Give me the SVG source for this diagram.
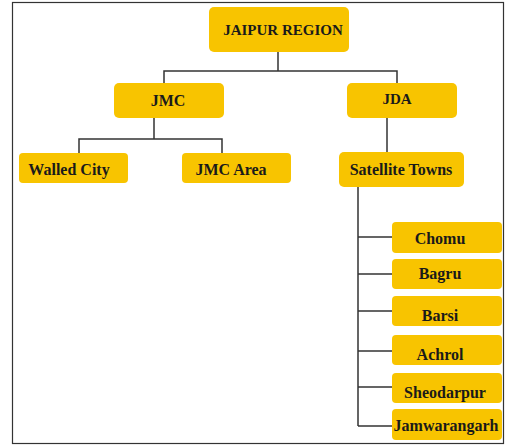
<svg xmlns="http://www.w3.org/2000/svg" width="505" height="446" viewBox="0 0 505 446">
<style>
.box{fill:#F8C400;}
.t{font-family:"Liberation Serif","Times New Roman",serif;font-weight:bold;font-size:16px;fill:#1a1a1a;text-anchor:middle;}
.c{fill:none;stroke:#333;stroke-width:1.5;}
</style>
<rect x="12.5" y="2.5" width="491" height="441" fill="#fff" stroke="#333" stroke-width="1.2"/>
<g id="connectors">
<path class="c" d="M278,52V71M164,83V71H397V83"/>
<path class="c" d="M154,118V139M79,153V139H222V153"/>
<path class="c" d="M387,118V152"/>
<path class="c" d="M358,187V426M358,237H392M358,274H392M358,311H392M358,351H392M358,387H392M358,426H392"/>
</g>
<g id="jaipur"><rect class="box" x="209" y="7" width="140" height="45" rx="5"/><text class="t" x="283" y="35" style="font-size:15px">JAIPUR REGION</text></g>
<g id="jmc"><rect class="box" x="114" y="83" width="110" height="35" rx="5"/><text class="t" x="168" y="106">JMC</text></g>
<g id="jda"><rect class="box" x="347" y="83" width="110" height="35" rx="5"/><text class="t" x="397" y="104" style="font-size:15px">JDA</text></g>
<g id="walled"><rect class="box" x="19" y="153" width="109" height="30" rx="4"/><text class="t" x="69" y="175">Walled City</text></g>
<g id="jmcarea"><rect class="box" x="182" y="153" width="109" height="30" rx="4"/><text class="t" x="231" y="175">JMC Area</text></g>
<g id="satellite"><rect class="box" x="339" y="152" width="125" height="35" rx="5"/><text class="t" x="401" y="175">Satellite Towns</text></g>
<g id="chomu"><rect class="box" x="392" y="222" width="110" height="31" rx="4"/><text class="t" x="440" y="244">Chomu</text></g>
<g id="bagru"><rect class="box" x="392" y="259" width="110" height="30" rx="4"/><text class="t" x="440" y="279">Bagru</text></g>
<g id="barsi"><rect class="box" x="392" y="296" width="110" height="30" rx="4"/><text class="t" x="440" y="321">Barsi</text></g>
<g id="achrol"><rect class="box" x="392" y="335" width="110" height="30" rx="4"/><text class="t" x="440" y="360">Achrol</text></g>
<g id="sheodarpur"><rect class="box" x="392" y="373" width="110" height="30" rx="4"/><text class="t" x="445" y="398">Sheodarpur</text></g>
<g id="jamwarangarh"><rect class="box" x="392" y="409" width="110" height="31" rx="4"/><text class="t" x="446" y="431">Jamwarangarh</text></g>
</svg>
